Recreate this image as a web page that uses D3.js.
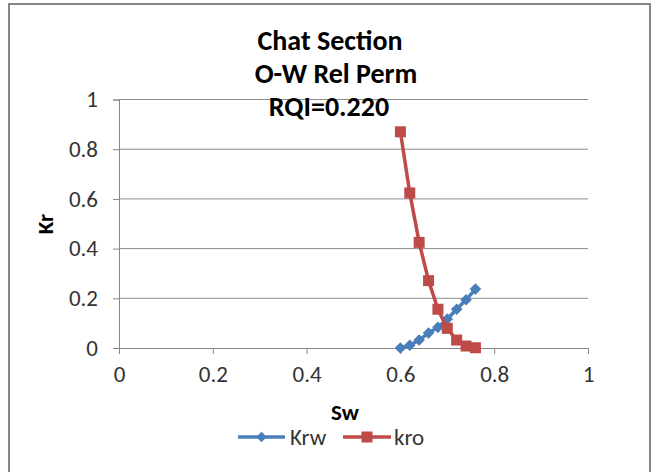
<!DOCTYPE html>
<html>
<head>
<meta charset="utf-8">
<script src="https://cdn.jsdelivr.net/npm/d3@7"></script>
<style>
  body { margin: 0; background: #fff; }
  text { font-family: Carlito, Calibri, "Open Sans", "Liberation Sans", sans-serif; }
</style>
</head>
<body>
<div id="chart"></div>
<script>
// datos
const swKrw = [0.60, 0.62, 0.64, 0.66, 0.68, 0.70, 0.72, 0.74, 0.76];
const krw = [0.0, 0.011, 0.032, 0.06, 0.083, 0.117, 0.156, 0.194, 0.237];
const swKro = [0.60, 0.62, 0.64, 0.66, 0.68, 0.70, 0.72, 0.74, 0.76];
const kro = [0.87, 0.624, 0.425, 0.271, 0.156, 0.079, 0.032, 0.008, 0.001];
const xTicks = [0, 0.2, 0.4, 0.6, 0.8, 1];
const yTicks = [0, 0.2, 0.4, 0.6, 0.8, 1];
const titleLines = ["Chat Section", "O-W Rel Perm", "RQI=0.220"];

const WIDTH = 657;
const HEIGHT = 472;
const BLUE = "#4a7ebb";
const RED = "#be4b48";

const SVG = d3.select("#chart").append("svg")
    .attr("width", WIDTH).attr("height", HEIGHT);

// marco exterior
SVG.append("rect")
    .attr("x", 9).attr("y", 4)
    .attr("width", 641).attr("height", 480)
    .attr("fill", "white")
    .attr("stroke", "#868686")
    .attr("stroke-width", 2);

const escalaX = d3.scaleLinear().domain([0, 1]).range([119, 588]);
const escalaY = d3.scaleLinear().domain([0, 1]).range([348, 99.5]);

// grilla
SVG.append("g")
    .selectAll("line")
    .data(yTicks.filter(d => d > 0))
    .join("line")
    .attr("x1", escalaX(0)).attr("x2", escalaX(1))
    .attr("y1", d => escalaY(d)).attr("y2", d => escalaY(d))
    .attr("stroke", "#8c8c8c").attr("stroke-width", 1);

const ejeX = d3.axisBottom(escalaX).tickValues(xTicks).tickFormat(d3.format("")).tickSize(6).tickPadding(12);
const ejeY = d3.axisLeft(escalaY).tickValues(yTicks).tickFormat(d3.format("")).tickSize(6).tickPadding(15);

const gx = SVG.append("g").attr("transform", `translate(0, ${escalaY(0)})`).call(ejeX);
const gy = SVG.append("g").attr("transform", `translate(${escalaX(0)}, 0)`).call(ejeY);

[gx, gy].forEach(g => {
    g.select(".domain").attr("stroke", "#868686");
    g.selectAll(".tick line").attr("stroke", "#868686");
    g.selectAll(".tick text")
        .attr("fill", "#333")
        .style("font-size", "23px");
});

// titulos de ejes
SVG.append("text")
    .attr("x", 345).attr("y", 420)
    .attr("text-anchor", "middle")
    .style("font-size", "23px").style("font-weight", "bold")
    .text("Sw");

SVG.append("text")
    .attr("transform", "translate(53, 224) rotate(-90)")
    .attr("text-anchor", "middle")
    .style("font-size", "23px").style("font-weight", "bold")
    .text("Kr");

// titulo (la segunda linea va corrida a la derecha como en el original)
const titleX = [330, 336, 329];
SVG.append("g")
    .selectAll("text")
    .data(titleLines)
    .join("text")
    .attr("x", (d, i) => titleX[i])
    .attr("y", (d, i) => 50 + i * 33)
    .attr("text-anchor", "middle")
    .style("font-size", "28px").style("font-weight", "bold")
    .text(d => d);

const datosKrw = swKrw.map((s, i) => ({ x: s, y: krw[i] }));
const datosKro = swKro.map((s, i) => ({ x: s, y: kro[i] }));

const linea = d3.line().x(d => escalaX(d.x)).y(d => escalaY(d.y));

SVG.append("path").datum(datosKrw)
    .attr("fill", "none").attr("stroke", BLUE).attr("stroke-width", 3.5)
    .attr("stroke-linejoin", "round")
    .attr("d", linea);

SVG.append("g").selectAll("path")
    .data(datosKrw)
    .join("path")
    .attr("d", d3.symbol(d3.symbolDiamond2, 85))
    .attr("transform", d => `translate(${escalaX(d.x)}, ${escalaY(d.y)})`)
    .attr("fill", BLUE);

SVG.append("path").datum(datosKro)
    .attr("fill", "none").attr("stroke", RED).attr("stroke-width", 3.5)
    .attr("stroke-linejoin", "round")
    .attr("d", linea);

SVG.append("g").selectAll("rect")
    .data(datosKro)
    .join("rect")
    .attr("x", d => escalaX(d.x) - 5.5)
    .attr("y", d => escalaY(d.y) - 5.5)
    .attr("width", 11).attr("height", 11)
    .attr("fill", RED);

// leyenda
const leyenda = SVG.append("g").attr("transform", "translate(0, 437)");
leyenda.append("line").attr("x1", 238).attr("x2", 285).attr("y1", 0).attr("y2", 0)
    .attr("stroke", BLUE).attr("stroke-width", 3.5);
leyenda.append("path").attr("d", d3.symbol(d3.symbolDiamond2, 70))
    .attr("transform", "translate(261.5, 0)").attr("fill", BLUE);
leyenda.append("text").attr("x", 290).attr("y", 8)
    .style("font-size", "23px").attr("fill", "#333").text("Krw");

leyenda.append("line").attr("x1", 343).attr("x2", 391).attr("y1", 0).attr("y2", 0)
    .attr("stroke", RED).attr("stroke-width", 3.5);
leyenda.append("rect").attr("x", 361.5).attr("y", -5.5).attr("width", 11).attr("height", 11)
    .attr("fill", RED);
leyenda.append("text").attr("x", 394).attr("y", 8)
    .style("font-size", "23px").attr("fill", "#333").text("kro");
</script>
</body>
</html>
